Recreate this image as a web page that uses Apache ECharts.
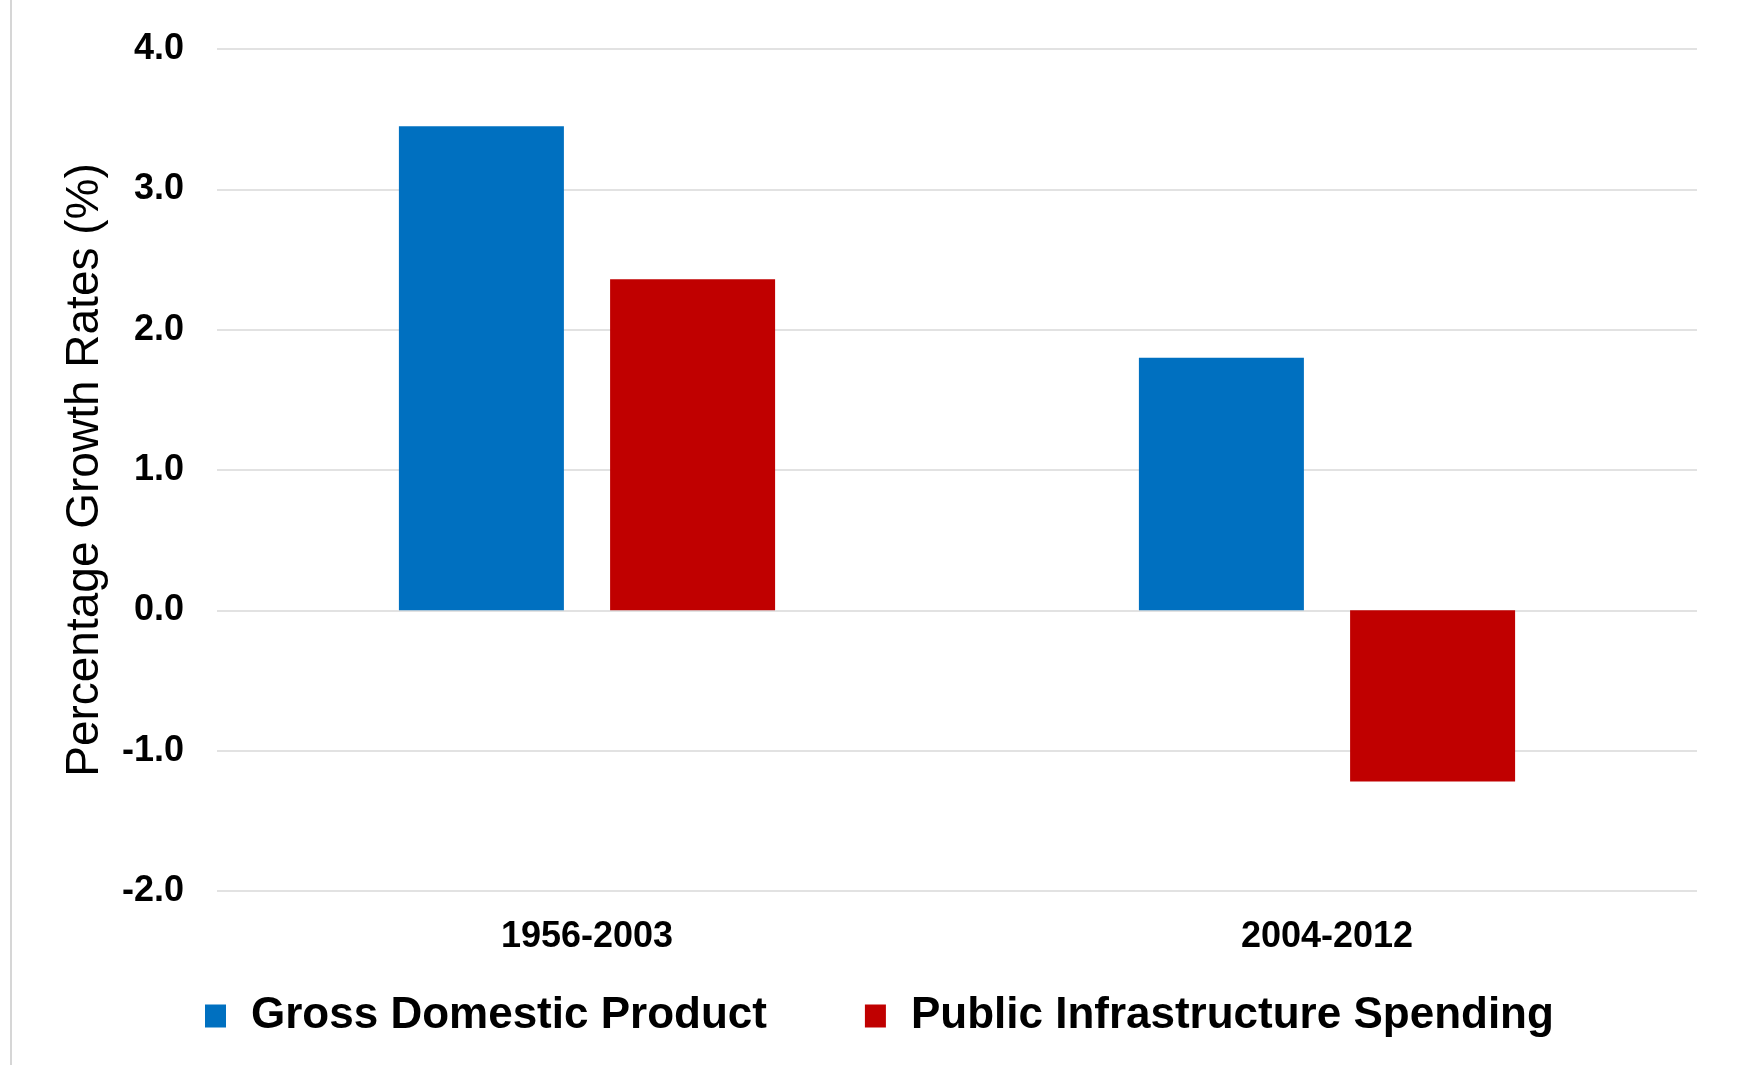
<!DOCTYPE html>
<html>
<head>
<meta charset="utf-8">
<script src="https://cdn.jsdelivr.net/npm/echarts@6/dist/echarts.min.js"></script>
<style>
html,body{margin:0;padding:0;background:#fff;}
#chart{width:1737px;height:1065px;}
</style>
</head>
<body>
<div id="chart"></div>
<script>
const categories = ['1956-2003', '2004-2012'];
const seriesNames = ['Gross Domestic Product', 'Public Infrastructure Spending'];
const gdpValues = [3.45, 1.80];
const infraValues = [2.36, -1.22];
const yAxisTitle = 'Percentage Growth Rates (%)';

const FONT = '"Liberation Sans", Arial, Helvetica, sans-serif';
const chart = echarts.init(document.getElementById('chart'), null, {renderer: 'canvas'});
chart.setOption({
  animation: false,
  backgroundColor: '#ffffff',
  textStyle: {fontFamily: FONT},
  graphic: [{
    type: 'line',
    shape: {x1: 11, y1: 0, x2: 11, y2: 1065},
    style: {stroke: '#c8c8c8', lineWidth: 1.5}
  }],
  grid: {left: 217, right: 40, top: 49, bottom: 174, containLabel: false},
  legend: {
    left: 200,
    top: 989,
    itemWidth: 21,
    itemHeight: 23,
    itemGap: 98,
    icon: 'rect',
    textStyle: {fontFamily: FONT, fontSize: 44, fontWeight: 'bold', color: '#000', padding: [0, 0, 0, 20]},
    data: seriesNames
  },
  xAxis: {
    type: 'category',
    data: categories,
    axisLine: {show: false},
    axisTick: {show: false},
    splitLine: {show: false},
    axisLabel: {fontFamily: FONT, fontSize: 36, fontWeight: 'bold', color: '#000', margin: 28}
  },
  yAxis: {
    type: 'value',
    min: -2,
    max: 4,
    interval: 1,
    name: yAxisTitle,
    nameLocation: 'middle',
    nameGap: 109,
    nameTextStyle: {fontFamily: FONT, fontSize: 46, color: '#000'},
    axisLine: {show: false},
    axisTick: {show: false},
    splitLine: {lineStyle: {color: '#d9d9d9', width: 1.5}},
    axisLabel: {
      fontFamily: FONT, fontSize: 36, fontWeight: 'bold', color: '#000', margin: 33,
      formatter: v => v.toFixed(1)
    }
  },
  series: [
    {name: seriesNames[0], type: 'bar', data: gdpValues, barWidth: 165, barGap: '28%',
     itemStyle: {color: '#0070C0'}},
    {name: seriesNames[1], type: 'bar', data: infraValues, barWidth: 165, barGap: '28%',
     itemStyle: {color: '#C00000'}}
  ]
});
</script>
</body>
</html>
